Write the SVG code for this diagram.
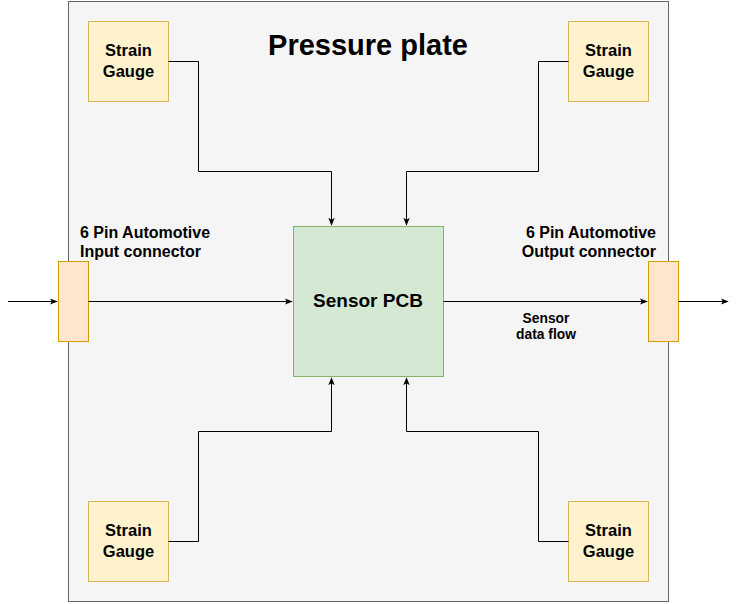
<svg xmlns="http://www.w3.org/2000/svg" width="738" height="604" viewBox="0 0 738 604">
<defs>
<style>
text{font-family:"Liberation Sans",Arial,sans-serif;font-weight:bold;fill:#000}
.g rect{fill:#fff2cc;stroke:#d6b656;stroke-width:1}
.c rect{fill:#ffe6cc;stroke:#d79b00;stroke-width:1}
.e{fill:none;stroke:#000;stroke-width:1}
.gt{font-size:16.5px;text-anchor:middle}
</style>
<marker id="a" viewBox="0 0 10 10" refX="9" refY="5" markerWidth="8" markerHeight="8" markerUnits="userSpaceOnUse" orient="auto">
<path d="M0,1 L10,5 L0,9 L2.5,5 Z" fill="#000"/>
</marker>
</defs>
<g id="plate">
<rect x="68.5" y="1.5" width="600" height="600" fill="#f5f5f5" stroke="#666666"/>
<text x="368" y="55" font-size="29" text-anchor="middle">Pressure plate</text>
</g>
<g id="pcb">
<rect x="293.5" y="226.5" width="150" height="150" fill="#d5e8d4" stroke="#82b366"/>
<text x="368" y="307" font-size="19" text-anchor="middle">Sensor PCB</text>
</g>
<g id="gauge-tl" class="g"><rect x="88.5" y="21.5" width="80" height="80"/><text class="gt" x="128.5" y="56">Strain</text><text class="gt" x="128.5" y="77">Gauge</text></g>
<g id="gauge-tr" class="g"><rect x="568.5" y="21.5" width="80" height="80"/><text class="gt" x="608.5" y="56">Strain</text><text class="gt" x="608.5" y="77">Gauge</text></g>
<g id="gauge-bl" class="g"><rect x="88.5" y="501.5" width="80" height="80"/><text class="gt" x="128.5" y="536">Strain</text><text class="gt" x="128.5" y="557">Gauge</text></g>
<g id="gauge-br" class="g"><rect x="568.5" y="501.5" width="80" height="80"/><text class="gt" x="608.5" y="536">Strain</text><text class="gt" x="608.5" y="557">Gauge</text></g>
<g id="input" class="c"><rect x="58.5" y="261.5" width="30" height="80"/><text x="80" y="238" font-size="16">6 Pin Automotive</text><text x="80" y="257" font-size="16">Input connector</text></g>
<g id="output" class="c"><rect x="648.5" y="261.5" width="30" height="80"/><text x="656" y="238" font-size="16" text-anchor="end">6 Pin Automotive</text><text x="656" y="257" font-size="16" text-anchor="end">Output connector</text></g>
<g id="flow-label"><text x="546" y="323" font-size="13.8" text-anchor="middle">Sensor</text><text x="546" y="339" font-size="13.8" text-anchor="middle">data flow</text></g>
<g id="connectors" class="e">
<path class="e" d="M168.5,61.5 H198.5 V171.5 H331.5 V225" marker-end="url(#a)"/>
<path class="e" d="M568.5,61.5 H538.5 V171.5 H406.5 V225" marker-end="url(#a)"/>
<path class="e" d="M168.5,541.5 H198.5 V431.5 H331.5 V378" marker-end="url(#a)"/>
<path class="e" d="M568.5,541.5 H538.5 V431.5 H406.5 V378" marker-end="url(#a)"/>
<path class="e" d="M8,301.5 H57" marker-end="url(#a)"/>
<path class="e" d="M88.5,301.5 H292" marker-end="url(#a)"/>
<path class="e" d="M443.5,301.5 H647" marker-end="url(#a)"/>
<path class="e" d="M678.5,301.5 H728" marker-end="url(#a)"/>
</g>
</svg>
